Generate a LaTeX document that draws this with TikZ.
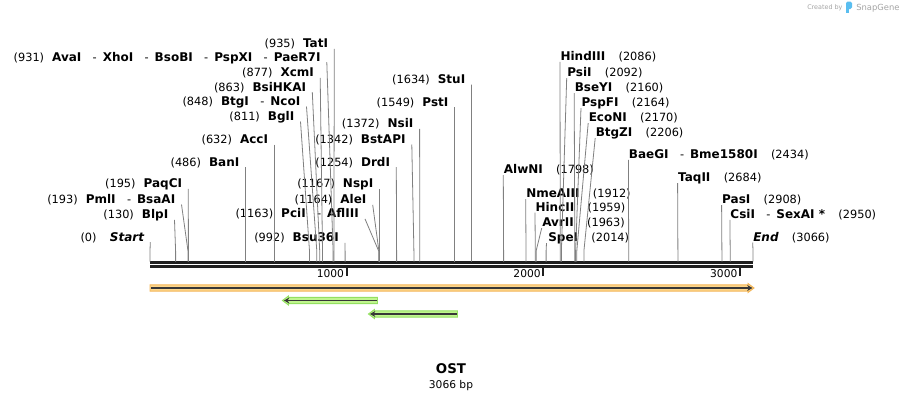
\documentclass[tikz,border=0pt]{standalone}
\usepackage{fontspec}
\setmainfont{DejaVu Sans}
\usepackage{tikz}
\usetikzlibrary{
  arrows.meta,
  positioning
}
\definecolor{cutgray}{RGB}{128,128,128}
\definecolor{featorange}{RGB}{252,214,140}
\definecolor{featorangedk}{RGB}{244,182,88}
\definecolor{featgreen}{RGB}{192,245,142}
\definecolor{featgreendk}{RGB}{148,224,98}
\definecolor{featline}{RGB}{55,55,55}
\definecolor{sgblue}{RGB}{90,190,240}
\definecolor{sggray}{RGB}{165,165,165}
\newcommand{\bpnum}[1]{{\fontsize{8.5}{9}\selectfont(#1)}}
\newcommand{\enz}[1]{{\fontsize{9}{10}\selectfont\bfseries#1}}
\newcommand{\enzdash}{\hspace{8.5pt}{\fontsize{8.5}{9}\selectfont-}\hspace{4.5pt}}

\begin{document}
\begin{tikzpicture}[
  x=0.75pt, y=-0.75pt,
  lsite/.style={anchor=base east, inner sep=0pt},
  rsite/.style={anchor=base west, inner sep=0pt},
  cut/.style={draw=cutgray, line width=0.6pt},
  backbone/.style={draw=black!88, line width=2pt},
  tickmark/.style={draw=black!88, line width=1.4pt},
  orangeband/.style={fill=featorange, draw=featorangedk, line width=0.7pt, line join=miter},
  greenband/.style={fill=featgreen, draw=featgreendk, line width=0.7pt, line join=miter},
  featarrow/.style={draw=featline, line width=1.3pt, -{Stealth[length=4pt,width=4.5pt]}}
]
  \useasboundingbox (0,0) rectangle (904,400);
  \fill[white] (0,0) rectangle (904,400);

  % backbone and scale
  \coordinate (bb) at (0,261.5);
  \draw[backbone] (150,262.3) -- (753,262.3);
  \draw[backbone] (150,266.3) -- (753,266.3);
  \draw[tickmark] (346.7,266) -- (346.7,276);
  \draw[tickmark] (543.3,266) -- (543.3,276);
  \draw[tickmark] (740.0,266) -- (740.0,276);
  \node[lsite, font=\fontsize{8}{9}\selectfont] (t1000) at (344.3,277.8) {1000};
  \node[lsite, font=\fontsize{8}{9}\selectfont] (t2000) at (540.9,277.8) {2000};
  \node[lsite, font=\fontsize{8}{9}\selectfont] (t3000) at (737.6,277.8) {3000};

  % cut sites on the backbone
  \coordinate (s0)    at (150.0,251);
  \coordinate (s130)  at (175.6,251);
  \coordinate (s193)  at (188.0,251);
  \coordinate (s195)  at (188.4,251);
  \coordinate (s486)  at (245.6,251);
  \coordinate (s632)  at (274.3,251);
  \coordinate (s811)  at (309.5,251);
  \coordinate (s848)  at (316.8,251);
  \coordinate (s863)  at (319.7,251);
  \coordinate (s877)  at (322.5,251);
  \coordinate (s931)  at (333.1,251);
  \coordinate (s935)  at (333.9,251);
  \coordinate (s992)  at (345.1,251);
  \coordinate (s1163) at (378.7,251);
  \coordinate (s1164) at (378.9,251);
  \coordinate (s1167) at (379.5,251);
  \coordinate (s1254) at (396.6,251);
  \coordinate (s1342) at (413.9,251);
  \coordinate (s1372) at (419.8,251);
  \coordinate (s1549) at (454.6,251);
  \coordinate (s1634) at (471.4,251);
  \coordinate (s1798) at (503.6,251);
  \coordinate (s1912) at (526.0,251);
  \coordinate (s1959) at (535.3,251);
  \coordinate (s1963) at (536.1,251);
  \coordinate (s2014) at (546.1,251);
  \coordinate (s2086) at (560.3,251);
  \coordinate (s2092) at (561.4,251);
  \coordinate (s2160) at (574.8,251);
  \coordinate (s2164) at (575.6,251);
  \coordinate (s2170) at (576.8,251);
  \coordinate (s2206) at (583.9,251);
  \coordinate (s2434) at (628.7,251);
  \coordinate (s2684) at (677.9,251);
  \coordinate (s2908) at (721.9,251);
  \coordinate (s2950) at (730.2,251);
  \coordinate (s3066) at (753.0,251);

  % labels left of their line
  \node[lsite] (start)   at (144.3,241.0) {\bpnum{0}\hspace{10pt}\enz{\itshape Start}};
  \node[lsite] (blpI)    at (168.5,218.6) {\bpnum{130}\hspace{6pt}\enz{BlpI}};
  \node[lsite] (pmlI)    at (175.5,203.3) {\bpnum{193}\hspace{6pt}\enz{PmlI}\enzdash\enz{BsaAI}};
  \node[lsite] (paqCI)   at (182.3,187.6) {\bpnum{195}\hspace{6pt}\enz{PaqCI}};
  \node[lsite] (banI)    at (239.6,166.0) {\bpnum{486}\hspace{6pt}\enz{BanI}};
  \node[lsite] (accI)    at (268.3,143.3) {\bpnum{632}\hspace{6pt}\enz{AccI}};
  \node[lsite] (bglI)    at (294.5,120.3) {\bpnum{811}\hspace{6pt}\enz{BglI}};
  \node[lsite] (btgI)    at (300.5,105.3) {\bpnum{848}\hspace{6pt}\enz{BtgI}\enzdash\enz{NcoI}};
  \node[lsite] (bsiHKAI) at (306.3,91.0)  {\bpnum{863}\hspace{6pt}\enz{BsiHKAI}};
  \node[lsite] (xcmI)    at (314.2,76.6)  {\bpnum{877}\hspace{6pt}\enz{XcmI}};
  \node[lsite] (avaI)    at (320.8,61.0)  {\bpnum{931}\hspace{6pt}\enz{AvaI}\enzdash\enz{XhoI}\enzdash\enz{BsoBI}\enzdash\enz{PspXI}\enzdash\enz{PaeR7I}};
  \node[lsite] (tatI)    at (328.3,47.6)  {\bpnum{935}\hspace{6pt}\enz{TatI}};
  \node[lsite] (bsu36I)  at (339.0,241.6) {\bpnum{992}\hspace{6pt}\enz{Bsu36I}};
  \node[lsite] (pciI)    at (359.0,217.7) {\bpnum{1163}\hspace{6pt}\enz{PciI}\enzdash\enz{AflIII}};
  \node[lsite] (aleI)    at (366.7,203.6) {\bpnum{1164}\hspace{6pt}\enz{AleI}};
  \node[lsite] (nspI)    at (373.5,187.6) {\bpnum{1167}\hspace{6pt}\enz{NspI}};
  \node[lsite] (drdI)    at (390.3,166.0) {\bpnum{1254}\hspace{6pt}\enz{DrdI}};
  \node[lsite] (bstAPI)  at (405.8,143.3) {\bpnum{1342}\hspace{6pt}\enz{BstAPI}};
  \node[lsite] (nsiI)    at (413.6,127.6) {\bpnum{1372}\hspace{6pt}\enz{NsiI}};
  \node[lsite] (pstI)    at (448.6,106.0) {\bpnum{1549}\hspace{6pt}\enz{PstI}};
  \node[lsite] (stuI)    at (465.5,83.3)  {\bpnum{1634}\hspace{6pt}\enz{StuI}};

  \draw[cut] ([shift={(6,1.2)}]start.base east)   -- (s0)    -- (s0 |- bb);
  \draw[cut] ([shift={(6,1.2)}]blpI.base east)    -- (s130)  -- (s130 |- bb);
  \draw[cut] ([shift={(6,1.2)}]pmlI.base east)    -- (s193)  -- (s193 |- bb);
  \draw[cut] ([shift={(6,1.2)}]paqCI.base east)   -- (s195)  -- (s195 |- bb);
  \draw[cut] ([shift={(6,1.2)}]banI.base east)    -- (s486)  -- (s486 |- bb);
  \draw[cut] ([shift={(6,1.2)}]accI.base east)    -- (s632)  -- (s632 |- bb);
  \draw[cut] ([shift={(6,1.2)}]bglI.base east)    -- (s811)  -- (s811 |- bb);
  \draw[cut] ([shift={(6,1.2)}]btgI.base east)    -- (s848)  -- (s848 |- bb);
  \draw[cut] ([shift={(6,1.2)}]bsiHKAI.base east) -- (s863)  -- (s863 |- bb);
  \draw[cut] ([shift={(6,1.2)}]xcmI.base east)    -- (s877)  -- (s877 |- bb);
  \draw[cut] ([shift={(6,1.2)}]avaI.base east)    -- (s931)  -- (s931 |- bb);
  \draw[cut] ([shift={(6,1.2)}]tatI.base east)    -- (s935)  -- (s935 |- bb);
  \draw[cut] ([shift={(6,1.2)}]bsu36I.base east)  -- (s992)  -- (s992 |- bb);
  \draw[cut] ([shift={(6,1.2)}]pciI.base east)    -- (s1163) -- (s1163 |- bb);
  \draw[cut] ([shift={(6,1.2)}]aleI.base east)    -- (s1164) -- (s1164 |- bb);
  \draw[cut] ([shift={(6,1.2)}]nspI.base east)    -- (s1167) -- (s1167 |- bb);
  \draw[cut] ([shift={(6,1.2)}]drdI.base east)    -- (s1254) -- (s1254 |- bb);
  \draw[cut] ([shift={(6,1.2)}]bstAPI.base east)  -- (s1342) -- (s1342 |- bb);
  \draw[cut] ([shift={(6,1.2)}]nsiI.base east)    -- (s1372) -- (s1372 |- bb);
  \draw[cut] ([shift={(6,1.2)}]pstI.base east)    -- (s1549) -- (s1549 |- bb);
  \draw[cut] ([shift={(6,1.2)}]stuI.base east)    -- (s1634) -- (s1634 |- bb);

  % labels right of their line
  \node[rsite] (alwNI)   at (503.6,173.6) {\enz{AlwNI}\hspace{10pt}\bpnum{1798}};
  \node[rsite] (nmeAIII) at (526.0,197.6) {\enz{NmeAIII}\hspace{10pt}\bpnum{1912}};
  \node[rsite] (hincII)  at (535.3,211.0) {\enz{HincII}\hspace{10pt}\bpnum{1959}};
  \node[rsite] (avrII)   at (542.0,226.6) {\enz{AvrII}\hspace{10pt}\bpnum{1963}};
  \node[rsite] (speI)    at (548.0,241.6) {\enz{SpeI}\hspace{10pt}\bpnum{2014}};
  \node[rsite] (hindIII) at (560.3,60.3)  {\enz{HindIII}\hspace{10pt}\bpnum{2086}};
  \node[rsite] (psiI)    at (567.0,76.6)  {\enz{PsiI}\hspace{10pt}\bpnum{2092}};
  \node[rsite] (bseYI)   at (574.5,91.6)  {\enz{BseYI}\hspace{10pt}\bpnum{2160}};
  \node[rsite] (pspFI)   at (581.3,106.6) {\enz{PspFI}\hspace{10pt}\bpnum{2164}};
  \node[rsite] (ecoNI)   at (588.5,121.6) {\enz{EcoNI}\hspace{10pt}\bpnum{2170}};
  \node[rsite] (btgZI)   at (595.5,136.6) {\enz{BtgZI}\hspace{10pt}\bpnum{2206}};
  \node[rsite] (baeGI)   at (628.7,158.3) {\enz{BaeGI}\enzdash\enz{Bme1580I}\hspace{10pt}\bpnum{2434}};
  \node[rsite] (taqII)   at (677.9,181.6) {\enz{TaqII}\hspace{10pt}\bpnum{2684}};
  \node[rsite] (pasI)    at (721.9,203.6) {\enz{PasI}\hspace{10pt}\bpnum{2908}};
  \node[rsite] (csiI)    at (730.2,218.3) {\enz{CsiI}\enzdash\enz{SexAI *}\hspace{10pt}\bpnum{2950}};
  \node[rsite] (endsite) at (753.0,241.0) {\enz{\itshape End}\hspace{10pt}\bpnum{3066}};

  \draw[cut] ([shift={(-0.3,1.5)}]alwNI.base west)   -- (s1798) -- (s1798 |- bb);
  \draw[cut] ([shift={(-0.3,1.5)}]nmeAIII.base west) -- (s1912) -- (s1912 |- bb);
  \draw[cut] ([shift={(-0.3,1.5)}]hincII.base west)  -- (s1959) -- (s1959 |- bb);
  \draw[cut] ([shift={(-0.3,1.5)}]avrII.base west)   -- (s1963) -- (s1963 |- bb);
  \draw[cut] ([shift={(-1.5,1.5)}]speI.base west)    -- (s2014) -- (s2014 |- bb);
  \draw[cut] ([shift={(-0.3,1.5)}]hindIII.base west) -- (s2086) -- (s2086 |- bb);
  \draw[cut] ([shift={(-0.3,1.5)}]psiI.base west)    -- (s2092) -- (s2092 |- bb);
  \draw[cut] ([shift={(-0.3,1.5)}]bseYI.base west)   -- (s2160) -- (s2160 |- bb);
  \draw[cut] ([shift={(-0.3,1.5)}]pspFI.base west)   -- (s2164) -- (s2164 |- bb);
  \draw[cut] ([shift={(-0.3,1.5)}]ecoNI.base west)   -- (s2170) -- (s2170 |- bb);
  \draw[cut] ([shift={(-0.3,1.5)}]btgZI.base west)   -- (s2206) -- (s2206 |- bb);
  \draw[cut] ([shift={(-0.3,1.5)}]baeGI.base west)   -- (s2434) -- (s2434 |- bb);
  \draw[cut] ([shift={(-0.3,1.5)}]taqII.base west)   -- (s2684) -- (s2684 |- bb);
  \draw[cut] ([shift={(-0.3,1.5)}]pasI.base west)    -- (s2908) -- (s2908 |- bb);
  \draw[cut] ([shift={(-0.3,1.5)}]csiI.base west)    -- (s2950) -- (s2950 |- bb);
  \draw[cut] ([shift={(-0.3,1.5)}]endsite.base west) -- (s3066) -- (s3066 |- bb);

  % features
  \draw[orangeband] (150,284.8) -- (748,284.8) -- (748,283.5) -- (754,288)
    -- (748,292.5) -- (748,291.2) -- (150,291.2) -- cycle;
  \draw[featarrow] (151,288) -- (752.5,288);
  \draw[greenband] (377.5,297.3) -- (288.5,297.3) -- (288.5,296) -- (282.5,300.5)
    -- (288.5,305) -- (288.5,303.7) -- (377.5,303.7) -- cycle;
  \draw[featarrow] (376.5,300.5) -- (284,300.5);
  \draw[greenband] (457.5,310.8) -- (374.5,310.8) -- (374.5,309.5) -- (368.5,314)
    -- (374.5,318.5) -- (374.5,317.2) -- (457.5,317.2) -- cycle;
  \draw[featarrow] (456.5,314) -- (370,314);

  % name and size
  \node[inner sep=0pt, font=\fontsize{10}{12}\selectfont\bfseries] (title) at (451,369) {OST};
  \node[below=4.5pt of title, inner sep=0pt, font=\fontsize{8}{9}\selectfont] (size) {3066 bp};

  % credit
  \node[anchor=base west, inner sep=0pt, text=sggray, font=\fontsize{4.8}{5}\selectfont] (credit) at (807,9.7) {Created by};
  \fill[sgblue, rounded corners=1.2pt] (846,1.5) rectangle (852,9);
  \fill[sgblue] (846,5) rectangle (849,13);
  \node[anchor=base west, inner sep=0pt, text=sggray, font=\fontsize{6.3}{7}\selectfont] (sgname) at (856,10.5) {SnapGene};
\end{tikzpicture}
\end{document}
